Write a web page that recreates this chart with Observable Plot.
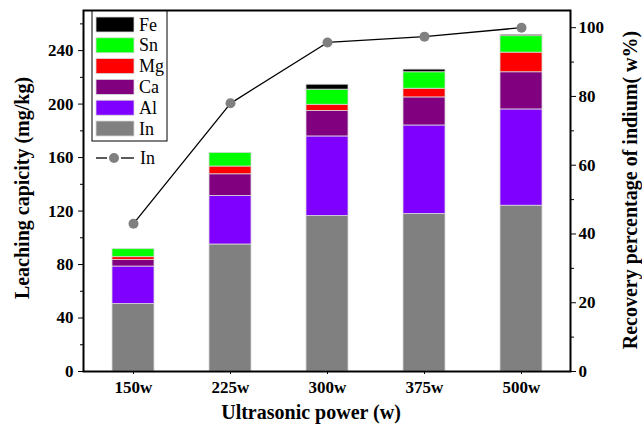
<!DOCTYPE html>
<html>
<head>
<meta charset="utf-8">
<script src="https://cdn.jsdelivr.net/npm/d3@7"></script>
<script src="https://cdn.jsdelivr.net/npm/@observablehq/plot@0.6"></script>
<style>
  html, body { margin: 0; padding: 0; background: #fff; }
  #wrap { position: relative; width: 642px; height: 428px; }
  svg { font-family: "Liberation Serif", "Times New Roman", serif; }
</style>
</head>
<body>
<div id="wrap"></div>
<script>
const powers = ["150w", "225w", "300w", "375w", "500w"];
const elements = ["In", "Al", "Ca", "Mg", "Sn", "Fe"];
const colors = ["#808080", "#8000ff", "#800080", "#ff0000", "#00ff00", "#000000"];
const In = [50.5, 95, 116.3, 117.8, 124];
const Al = [28, 36.3, 59.5, 66.2, 72];
const Ca = [5, 16.2, 19, 21, 27.8];
const Mg = [2, 5.8, 4.7, 6.5, 14.7];
const Sn = [6, 10.2, 11.3, 12.3, 12.3];
const Fe = [0, 0, 3.7, 2, 1];
const recovery = [43, 78, 95.7, 97.4, 100];
const leftTicks = [0, 40, 80, 120, 160, 200, 240];
const leftMinor = [20, 60, 100, 140, 180, 220, 260];
const rightTicks = [0, 20, 40, 60, 80, 100];
const rightMinor = [10, 30, 50, 70, 90];

const yMax = 270, rMax = 105;
const toLeft = p => p * yMax / rMax;

const series = {In, Al, Ca, Mg, Sn, Fe};
const stacked = [];
powers.forEach((p, i) => elements.forEach(e => stacked.push({power: p, element: e, value: series[e][i]})));
const rec = powers.map((p, i) => ({power: p, pct: recovery[i]}));

const chart = Plot.plot({
  width: 642, height: 428,
  marginLeft: 83, marginRight: 72, marginTop: 10, marginBottom: 57,
  style: {fontFamily: "Liberation Serif", fontWeight: "bold", fontSize: "17px", color: "#000", background: "#fff"},
  x: {type: "band", domain: powers, paddingInner: 0.57, paddingOuter: 0.285},
  y: {domain: [0, yMax]},
  color: {domain: elements, range: colors},
  marks: [
    Plot.barY(stacked, {x: "power", y: "value", fill: "element", stroke: "#d8d8d8", strokeWidth: 0.8, order: elements}),
    Plot.line(rec, {x: "power", y: d => toLeft(d.pct), stroke: "#000", strokeWidth: 1.3}),
    Plot.dot(rec, {x: "power", y: d => toLeft(d.pct), r: 5, fill: "#808080", stroke: "none"}),
    Plot.axisY({ticks: leftTicks, tickSize: 5, tickPadding: 5, label: null, tickFormat: d => d, fontSize: 17}),
    Plot.axisY({ticks: leftMinor, tickSize: 3, text: null, label: null}),
    Plot.axisY({anchor: "right", ticks: rightTicks.map(toLeft), tickSize: 5, tickPadding: 3, label: null,
      tickFormat: d => Math.round(d * rMax / yMax), fontSize: 17}),
    Plot.axisY({anchor: "right", ticks: rightMinor.map(toLeft), tickSize: 3, text: null, label: null}),
    Plot.axisX({tickSize: 3, tickPadding: 6, label: null, fontSize: 17}),
    Plot.frame({stroke: "#000", strokeWidth: 2})
  ]
});

document.getElementById("wrap").appendChild(chart);

const svg = d3.select(chart);
// axis titles
svg.append("text").attr("x", 311).attr("y", 419).attr("text-anchor", "middle")
  .attr("font-size", 20).attr("font-weight", "bold").attr("fill", "#000")
  .text("Ultrasonic power (w)");
svg.append("text").attr("transform", "translate(29,188) rotate(-90)").attr("text-anchor", "middle")
  .attr("font-size", 20).attr("font-weight", "bold").attr("fill", "#000")
  .text("Leaching capicity (mg/kg)");
svg.append("text").attr("transform", "translate(637,190) rotate(-90)").attr("text-anchor", "middle")
  .attr("font-size", 20).attr("font-weight", "bold").attr("fill", "#000")
  .text("Recovery percentage of indium( w%)");

// legend
const lg = svg.append("g").attr("font-size", 18).attr("font-weight", "normal")
  .attr("fill", "#000").attr("text-anchor", "start");
lg.append("rect").attr("x", 92).attr("y", 11).attr("width", 75).attr("height", 130)
  .attr("fill", "#fff").attr("stroke", "#000").attr("stroke-width", 1);
const legendOrder = ["Fe", "Sn", "Mg", "Ca", "Al", "In"];
legendOrder.forEach((e, i) => {
  const y = 17 + i * 20.8;
  lg.append("rect").attr("x", 96).attr("y", y).attr("width", 38).attr("height", 15)
    .attr("fill", colors[elements.indexOf(e)]).attr("stroke", "#d8d8d8").attr("stroke-width", 0.8);
  lg.append("text").attr("x", 139).attr("y", y + 13.5).attr("text-anchor", "start").text(e);
});
lg.append("line").attr("x1", 96).attr("x2", 107).attr("y1", 158).attr("y2", 158).attr("stroke", "#000").attr("stroke-width", 1.3);
lg.append("line").attr("x1", 121).attr("x2", 134).attr("y1", 158).attr("y2", 158).attr("stroke", "#000").attr("stroke-width", 1.3);
lg.append("circle").attr("cx", 114).attr("cy", 158).attr("r", 5).attr("fill", "#808080");
lg.append("text").attr("x", 140).attr("y", 164).attr("text-anchor", "start").text("In");
</script>
</body>
</html>
